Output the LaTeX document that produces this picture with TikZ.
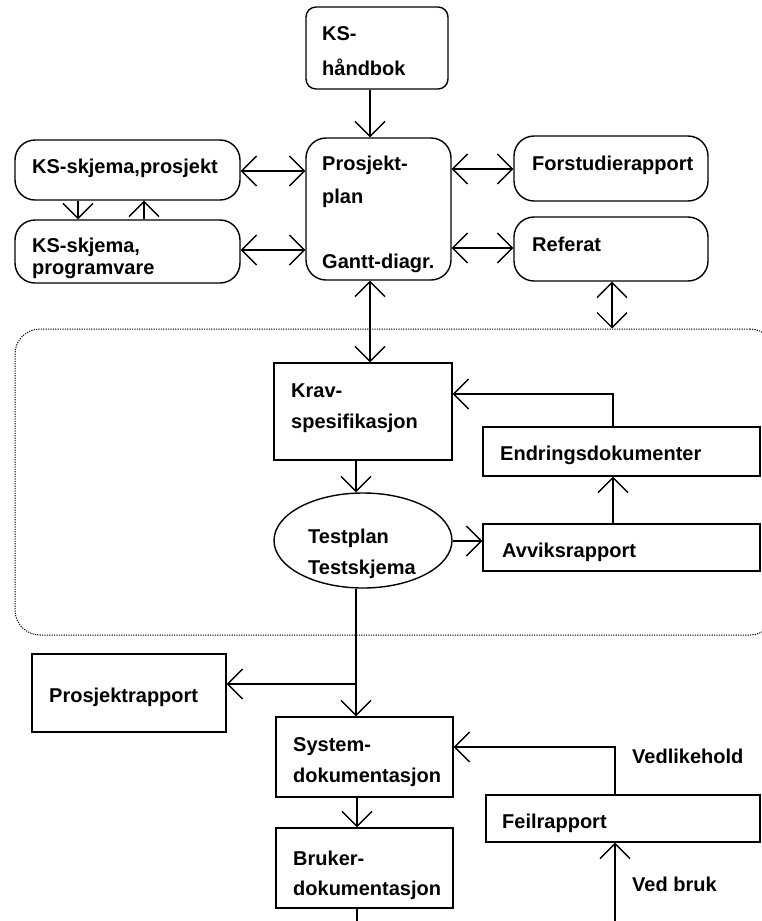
\documentclass[tikz,border=0pt]{standalone}
\usepackage{fontspec}
\setmainfont{Liberation Sans}
\usetikzlibrary{arrows.meta,shapes.geometric}
\begin{document}
\begin{tikzpicture}[x=1pt,y=-1pt,
  txt/.style={font=\fontsize{20}{30}\selectfont\bfseries, inner sep=0pt, anchor=base west},
  box/.style={draw, line width=1.4pt, inner sep=0pt},
  rbox/.style={box, rounded corners=20pt},
  arr/.style={line width=1.3pt, -{Straight Barb[length=15pt,width=30pt,line width=1.3pt]}},
  dbl/.style={line width=1.3pt, {Straight Barb[length=15pt,width=30pt,line width=1.3pt]}-{Straight Barb[length=15pt,width=30pt,line width=1.3pt]}},
  plain/.style={line width=1.3pt},
  region/.style={draw, line width=1pt, dash pattern=on 1.2pt off 1.2pt, rounded corners=25pt, inner sep=0pt}]
\clip (0,0) rectangle (762,921);
% helper coordinates
\coordinate (colA) at (370,0);
\coordinate (colB) at (356,0);
\coordinate (colS) at (357,0);
\coordinate (colR) at (613,0);
\coordinate (colF) at (615,0);
\coordinate (colRef) at (612,0);
\coordinate (colD) at (78,0);
\coordinate (colU) at (144,0);
\coordinate (rowA) at (0,171);
\coordinate (rowB) at (0,250);
\coordinate (rowC) at (0,169);
\coordinate (rowD) at (0,248);
\coordinate (rowK) at (0,394);
\coordinate (rowS) at (0,747);
\coordinate (rowT) at (0,541);
\coordinate (jp) at (356,684);
\coordinate (bend) at (357,921);
\coordinate (fbot) at (615,921);

% dotted region
\node[region, minimum width=760pt, minimum height=306pt] (reg) at (395,482) {};

% boxes
\node[box, rounded corners=10pt, minimum width=142pt, minimum height=82pt] (hb) at (377,48) {};
\node[rbox, minimum width=145pt, minimum height=142pt] (pp) at (378.5,209) {};
\node[rbox, minimum width=225pt, minimum height=60pt] (ksp) at (127.5,170) {};
\node[rbox, minimum width=225pt, minimum height=63pt] (ksv) at (127.5,251.5) {};
\node[rbox, minimum width=194pt, minimum height=65pt] (fs) at (611,168.5) {};
\node[rbox, minimum width=194pt, minimum height=64pt] (ref) at (611,249) {};
\node[box, minimum width=178pt, minimum height=97pt] (krav) at (363,411.5) {};
\node[box, ellipse, minimum width=178pt, minimum height=95pt] (test) at (363,540.5) {};
\node[box, minimum width=277pt, minimum height=49pt] (endr) at (621.5,451.5) {};
\node[box, minimum width=277pt, minimum height=47pt] (avv) at (621.5,547.5) {};
\node[box, minimum width=194pt, minimum height=78pt] (prap) at (129,693) {};
\node[box, minimum width=177pt, minimum height=80pt] (sys) at (364.5,757) {};
\node[box, minimum width=177pt, minimum height=80pt] (bruk) at (364.5,868) {};
\node[box, minimum width=274pt, minimum height=47pt] (feil) at (623,818.5) {};

% texts
\node[txt] (hb1) at (322,40) {KS-};
\node[txt] (hb2) at (322,75) {håndbok};
\node[txt] (pp1) at (322,170) {Prosjekt-};
\node[txt] (pp2) at (322,203) {plan};
\node[txt] (pp3) at (322,268) {Gantt-diagr.};
\node[txt] (ksp1) at (32,173) {KS-skjema,prosjekt};
\node[txt] (ksv1) at (32,252) {KS-skjema,};
\node[txt] (ksv2) at (32,274) {programvare};
\node[txt] (fs1) at (532,170) {Forstudierapport};
\node[txt] (ref1) at (532,251) {Referat};
\node[txt] (krav1) at (291,397) {Krav-};
\node[txt] (krav2) at (291,428) {spesifikasjon};
\node[txt] (test1) at (308,543) {Testplan};
\node[txt] (test2) at (308,574) {Testskjema};
\node[txt] (endr1) at (500,460) {Endringsdokumenter};
\node[txt] (avv1) at (502,557) {Avviksrapport};
\node[txt] (prap1) at (49,702) {Prosjektrapport};
\node[txt] (sys1) at (293,751) {System-};
\node[txt] (sys2) at (293,782) {dokumentasjon};
\node[txt] (bruk1) at (293,865) {Bruker-};
\node[txt] (bruk2) at (293,895) {dokumentasjon};
\node[txt] (feil1) at (502,828) {Feilrapport};
\node[txt] (ved1) at (632,763) {Vedlikehold};
\node[txt] (ved2) at (632,891) {Ved bruk};

% connectors
\draw[arr] (hb.south -| colA) -- (pp.north -| colA);
\draw[dbl] (ksp.east |- rowA) -- (pp.west |- rowA);
\draw[dbl] (ksv.east |- rowB) -- (pp.west |- rowB);
\draw[dbl] (pp.east |- rowC) -- (fs.west |- rowC);
\draw[dbl] (pp.east |- rowD) -- (ref.west |- rowD);
\draw[arr] (ksp.south -| colD) -- (ksv.north -| colD);
\draw[arr] (ksv.north -| colU) -- (ksp.south -| colU);
\draw[dbl] (ref.south -| colRef) -- (reg.north -| colRef);
\draw[dbl] (pp.south -| colA) -- (krav.north -| colA);
\draw[arr] (krav.south -| colB) -- (test.north -| colB);
\draw[arr] (test.east |- rowT) -- (avv.west |- rowT);
\draw[arr] (avv.north -| colR) -- (endr.south -| colR);
\draw[arr] (endr.north -| colR) |- (krav.east |- rowK);
\draw[plain] (test.south -| colB) -- (jp);
\draw[arr] (jp) -- (prap.east |- jp);
\draw[arr] (jp) -- (sys.north -| colB);
\draw[arr] (sys.south -| colS) -- (bruk.north -| colS);
\draw[plain] (bruk.south -| colS) -- (bend);
\draw[arr] (feil.north -| colF) |- (sys.east |- rowS);
\draw[arr] (fbot) -- (feil.south -| colF);
\end{tikzpicture}
\end{document}
